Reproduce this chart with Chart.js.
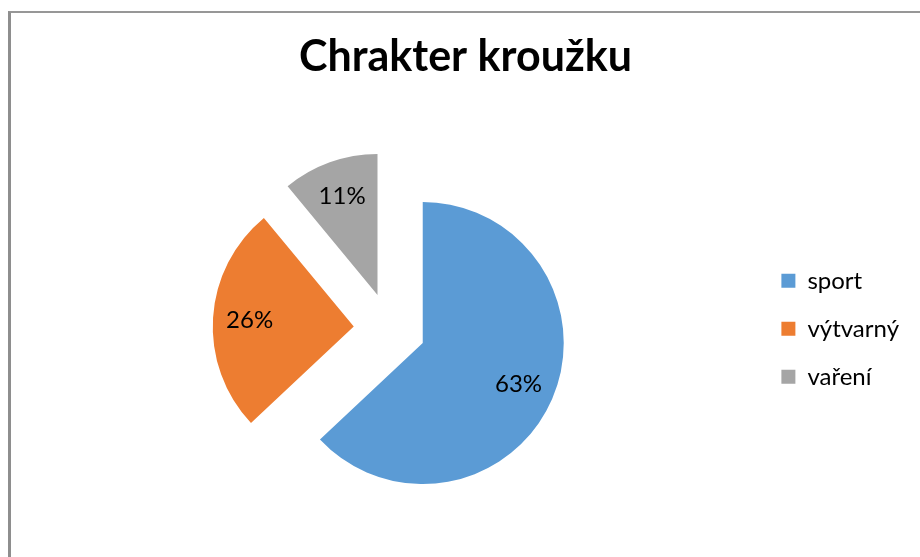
<!DOCTYPE html>
<html lang="cs">
<head>
    <meta charset="UTF-8">
    <title>Chrakter kroužku</title>
    <script src="https://cdn.jsdelivr.net/npm/chart.js"></script>
    <style>
        body {
            margin: 0;
            width: 920px;
            height: 557px;
            overflow: hidden;
            background: #fff;
            position: relative;
        }
        .frame {
            position: absolute;
            left: 8px;
            top: 11px;
            width: 1000px;
            height: 700px;
            border-left: 3px solid #8e8e8e;
            border-top: 2px solid #979797;
        }
        #pieChart {
            position: absolute;
            left: 0;
            top: 0;
        }
    </style>
</head>
<body>
    <div class="frame"></div>
    <canvas id="pieChart" width="920" height="620"></canvas>

    <script>
        // data
        var categories = ['sport', 'výtvarný', 'vaření'];
        var shares = [63, 26, 11];
        var sliceColors = ['#5B9BD5', '#ED7D31', '#A5A5A5'];

        Chart.defaults.font.family = "Lato, 'Open Sans', sans-serif";
        Chart.defaults.color = '#000';

        // pull every slice out from the centre, like Excel's "explosion"
        var explodePlugin = {
            id: 'explode',
            afterUpdate: function (chart, args, opts) {
                chart.getDatasetMeta(0).data.forEach(function (arc) {
                    if (arc.$exploded) return;
                    var baseDraw = arc.draw;
                    arc.draw = function (ctx) {
                        var mid = (this.startAngle + this.endAngle) / 2;
                        ctx.save();
                        ctx.translate(Math.cos(mid) * opts.distance, Math.sin(mid) * opts.distance);
                        baseDraw.call(this, ctx);
                        ctx.restore();
                    };
                    arc.$exploded = true;
                });
            }
        };

        // percentage labels inside the slices
        var sliceLabels = {
            id: 'sliceLabels',
            afterDatasetsDraw: function (chart, args, opts) {
                var ctx = chart.ctx;
                var data = chart.data.datasets[0].data;
                var total = data.reduce(function (a, b) { return a + b; }, 0);
                var dist = chart.options.plugins.explode.distance;
                ctx.save();
                ctx.font = opts.size + 'px ' + Chart.defaults.font.family;
                ctx.fillStyle = '#000';
                ctx.textAlign = 'center';
                ctx.textBaseline = 'middle';
                chart.getDatasetMeta(0).data.forEach(function (arc, i) {
                    var mid = (arc.startAngle + arc.endAngle) / 2;
                    var r = dist + arc.outerRadius * opts.position;
                    var pct = Math.round(data[i] / total * 100) + '%';
                    ctx.fillText(pct, arc.x + Math.cos(mid) * r, arc.y + Math.sin(mid) * r);
                });
                ctx.restore();
            }
        };

        var ctxPie = document.getElementById('pieChart').getContext('2d');
        var pieChart = new Chart(ctxPie, {
            type: 'pie',
            data: {
                labels: categories,
                datasets: [{
                    data: shares,
                    backgroundColor: sliceColors,
                    borderWidth: 0,
                    radius: 141,
                    clip: false
                }]
            },
            options: {
                responsive: false,
                animation: false,
                layout: {
                    padding: { left: 22, right: 11, top: 0, bottom: 62 }
                },
                plugins: {
                    title: {
                        display: true,
                        text: 'Chrakter kroužku',
                        font: { size: 43, weight: 'bold' },
                        color: '#000',
                        padding: { top: 31, bottom: 17 }
                    },
                    legend: {
                        position: 'right',
                        fullSize: false,
                        labels: {
                            boxWidth: 14,
                            boxHeight: 14,
                            padding: 24,
                            font: { size: 24 },
                            color: '#000'
                        }
                    },
                    tooltip: { enabled: false },
                    explode: { distance: 36 },
                    sliceLabels: { size: 24, position: 0.74 }
                }
            },
            plugins: [explodePlugin, sliceLabels]
        });
    </script>
</body>
</html>
